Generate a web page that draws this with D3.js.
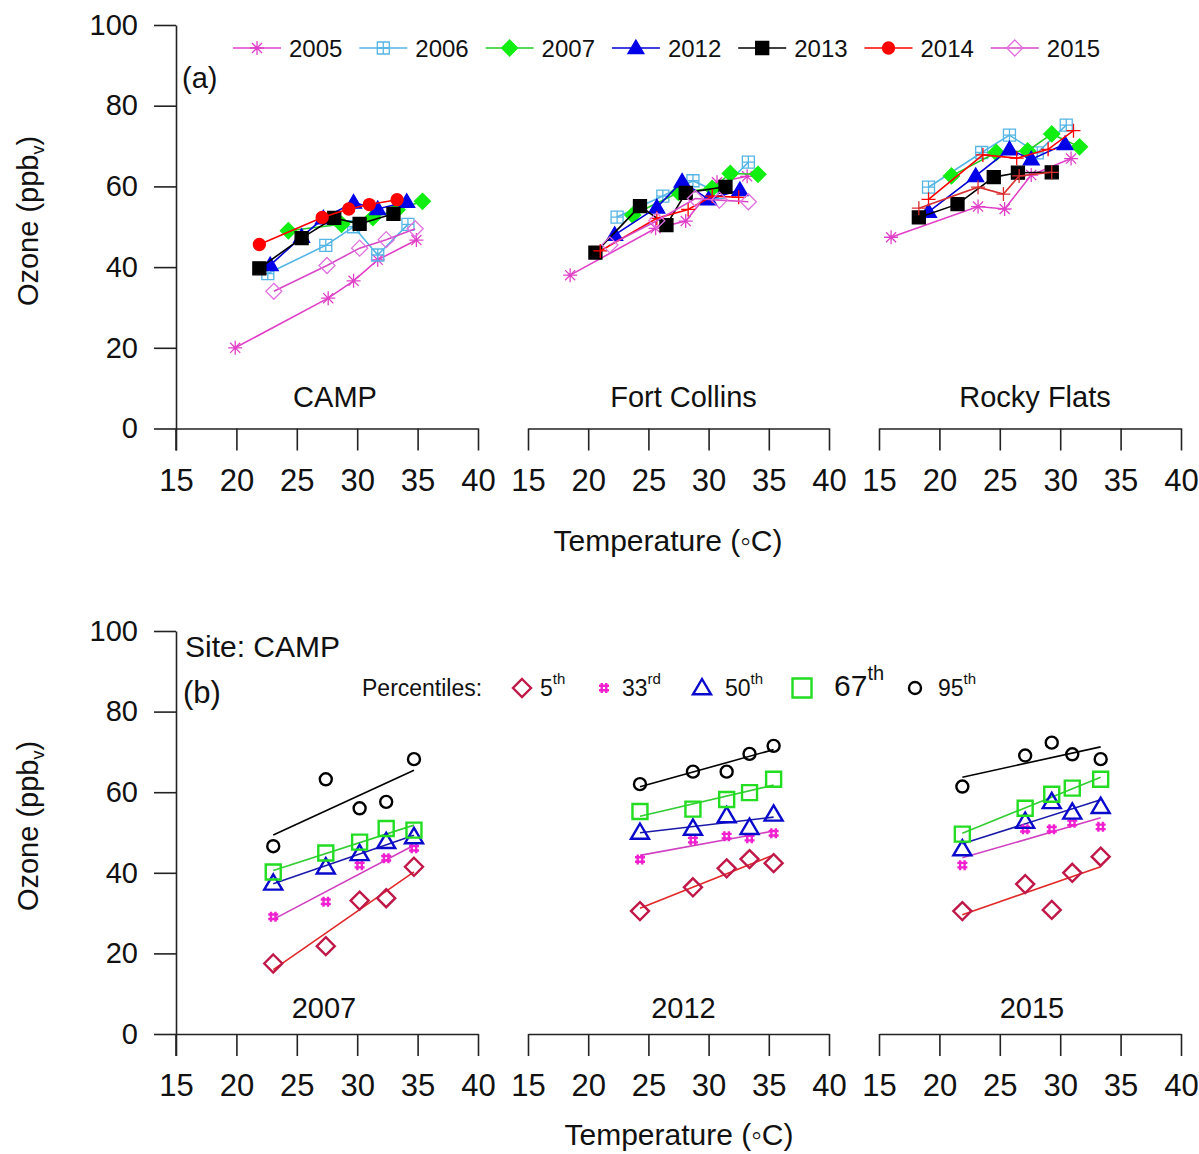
<!DOCTYPE html>
<html>
<head>
<meta charset="utf-8">
<script src="https://cdn.jsdelivr.net/npm/d3@7"></script>
<style>
  body { margin: 0; background: #fff; }
  svg { font-family: "Liberation Sans", Arial, sans-serif; }
</style>
</head>
<body>
<div id="chart"></div>
<script>
// ---------- data: panel (a), [temperature, ozone] per year ----------
const years = ['2005', '2006', '2007', '2012', '2013', '2014', '2015'];
const sites = ['CAMP', 'Fort Collins', 'Rocky Flats'];

const campSeries = {
  '2005': [[19.9, 20.0], [27.6, 32.3], [29.7, 36.6], [31.7, 41.8], [34.9, 46.7]],
  '2006': [[22.6, 38.4], [27.4, 45.4], [29.7, 50.0], [31.7, 43.0], [34.2, 50.6]],
  '2007': [[24.3, 49.0], [28.7, 50.6], [31.3, 52.3], [33.3, 54.2], [35.4, 56.3]],
  '2012': [[22.8, 40.5], [25.4, 47.5], [27.2, 52.1], [29.7, 56.0], [31.7, 54.4], [34.1, 56.2]],
  '2013': [[21.9, 39.7], [25.4, 47.2], [28.1, 52.2], [30.2, 50.7], [33.0, 53.2]],
  '2014': [[21.9, 45.6], [27.1, 52.3], [29.3, 54.4], [31.0, 55.5], [33.3, 56.7]],
  '2015': [[23.1, 34.0], [27.5, 40.4], [30.2, 44.7], [32.4, 46.8], [34.8, 49.5]]
};
const fortCollinsSeries = {
  '2005': [[18.5, 38.0], [25.6, 49.6], [28.1, 51.4], [30.7, 61.0], [33.2, 62.5]],
  '2006': [[22.4, 52.4], [26.2, 57.6], [28.7, 61.4], [30.8, 58.5], [33.3, 66.0]],
  '2007': [[23.7, 52.9], [27.5, 58.5], [30.3, 59.5], [31.8, 63.2], [34.1, 63.0]],
  '2012': [[22.2, 48.0], [25.7, 54.8], [27.8, 61.2], [30.0, 56.8], [32.6, 59.1]],
  '2013': [[20.6, 43.6], [24.3, 55.1], [26.5, 50.4], [28.1, 58.4], [31.4, 59.9]],
  '2014': [[21.0, 44.0], [25.7, 52.1], [28.3, 54.3], [30.3, 57.6], [32.5, 57.3]],
  '2015': [[21.8, 45.5], [25.7, 51.5], [28.9, 57.0], [30.9, 56.6], [33.3, 56.2]]
};
const rockyFlatsSeries = {
  '2005': [[16.0, 47.4], [23.2, 55.0], [25.4, 54.4], [27.6, 62.8], [30.9, 66.9]],
  '2006': [[19.1, 59.8], [23.5, 68.4], [25.8, 72.7], [28.1, 68.3], [30.5, 75.2]],
  '2007': [[21.0, 62.6], [24.7, 68.4], [27.3, 68.8], [29.3, 73.0], [31.6, 69.8]],
  '2012': [[19.1, 53.7], [23.0, 62.6], [25.8, 69.2], [27.6, 66.7], [30.4, 70.5]],
  '2013': [[18.3, 52.3], [21.5, 55.6], [24.5, 62.3], [26.5, 63.4], [29.3, 63.5]],
  '2014': [[19.1, 56.8], [23.6, 67.8], [26.4, 67.0], [29.0, 69.2], [31.1, 73.8]],
  '2015': [[18.3, 54.6], [23.2, 59.8], [25.3, 58.1], [26.6, 62.6], [29.3, 63.5]]
};

// ---------- data: panel (b), CAMP percentiles ----------
const pctlYears = ['2007', '2012', '2015'];
const pctlNames = ['5th', '33rd', '50th', '67th', '95th'];

const temps2007 = [23.05, 27.4, 30.2, 32.4, 34.7];
const pctl2007 = {
  '5th':  [17.5, 21.8, 33.1, 33.7, 41.5],
  '33rd': [29.1, 32.8, 41.9, 43.6, 46.1],
  '50th': [37.4, 41.4, 44.7, 47.7, 48.9],
  '67th': [40.2, 44.9, 47.6, 51.0, 50.6],
  '95th': [46.6, 63.2, 56.0, 57.6, 68.2]
};
const temps2012 = [24.3, 28.7, 31.5, 33.4, 35.4];
const pctl2012 = {
  '5th':  [30.5, 36.4, 41.1, 43.4, 42.4],
  '33rd': [43.3, 48.1, 49.1, 48.6, 49.8],
  '50th': [50.0, 51.0, 54.1, 51.2, 54.5],
  '67th': [55.2, 55.8, 58.2, 59.9, 63.2],
  '95th': [62.0, 65.1, 65.1, 69.5, 71.5]
};
const temps2015 = [21.9, 27.1, 29.3, 31.0, 33.35];
const pctl2015 = {
  '5th':  [30.5, 37.2, 30.8, 40.0, 44.0],
  '33rd': [41.9, 50.8, 50.8, 52.4, 51.4],
  '50th': [45.9, 52.7, 57.6, 55.0, 56.4],
  '67th': [49.6, 56.0, 59.5, 61.0, 63.2],
  '95th': [61.4, 69.1, 72.3, 69.4, 68.2]
};

const xTicks = [15, 20, 25, 30, 35, 40];
const yTicks = [0, 20, 40, 60, 80, 100];

// ---------- styles ----------
const yearStyle = {
  '2005': { sym: 'asterisk', line: '#e040c8', stroke: '#e040c8', fill: 'none', size: 7 },
  '2006': { sym: 'squarePlus', line: '#55b5e5', stroke: '#55b5e5', fill: 'none', size: 6 },
  '2007': { sym: 'diamond', line: '#22cc22', stroke: '#11ee11', fill: '#11ee11', size: 8 },
  '2012': { sym: 'triangle', line: '#0000d8', stroke: '#0000e8', fill: '#0000e8', size: 8 },
  '2013': { sym: 'square', line: '#000', stroke: '#000', fill: '#000', size: 6.5 },
  '2014': { sym: 'circle', line: '#ff0000', stroke: '#ff0000', fill: '#ff0000', size: 6 },
  '2015': { sym: 'diamond', line: '#d848c8', stroke: '#e070e0', fill: 'none', size: 8 }
};
// at the other two sites some years are plotted with "+" markers
const siteOverride = {
  'Fort Collins': { '2014': { sym: 'plus', size: 7 } },
  'Rocky Flats': { '2014': { sym: 'plus', size: 7 }, '2015': { sym: 'plus', size: 7, line: '#d83030', stroke: '#d83030' } }
};
const pctlStyle = {
  '5th':  { sym: 'diamond', stroke: '#c01848', line: '#e02828', size: 9 },
  '33rd': { sym: 'hash', stroke: '#f020d0', line: '#d040c0', size: 5 },
  '50th': { sym: 'triangle', stroke: '#0a0acc', line: '#1a1aa8', size: 9 },
  '67th': { sym: 'square', stroke: '#22dd22', line: '#33cc33', size: 7.5 },
  '95th': { sym: 'circle', stroke: '#000', line: '#000', size: 6 }
};

function symPath(sym, s) {
  switch (sym) {
    case 'diamond': return `M0,${-s}L${s},0L0,${s}L${-s},0Z`;
    case 'triangle': return `M0,${-s}L${s},${s * 0.7}L${-s},${s * 0.7}Z`;
    case 'square': return `M${-s},${-s}H${s}V${s}H${-s}Z`;
    case 'plus': return `M${-s},0H${s}M0,${-s}V${s}`;
    case 'squarePlus': return `M${-s},${-s}H${s}V${s}H${-s}ZM${-s},0H${s}M0,${-s}V${s}`;
    case 'asterisk': {
      const d = s * 0.72;
      return `M${-s},0H${s}M0,${-s}V${s}M${-d},${-d}L${d},${d}M${-d},${d}L${d},${-d}`;
    }
    case 'hash': {
      const a = s * 0.45;
      return `M${-a},${-s}V${s}M${a},${-s}V${s}M${-s},${-a}H${s}M${-s},${a}H${s}`;
    }
    case 'circle': return `M${s},0A${s},${s} 0 1,1 ${-s},0A${s},${s} 0 1,1 ${s},0Z`;
  }
}

function drawMarker(g, x, y, st, sw) {
  g.append('path')
    .attr('transform', `translate(${x},${y})`)
    .attr('d', symPath(st.sym, st.size))
    .attr('fill', st.fill || 'none')
    .attr('stroke', st.stroke)
    .attr('stroke-width', sw);
}

// ---------- layout ----------
const width = 1199, height = 1154;
const svg = d3.select('#chart').append('svg')
  .attr('width', width)
  .attr('height', height);

const panelRanges = [[176, 478], [528, 829], [879, 1181]];
const xScales = panelRanges.map(r => d3.scaleLinear().domain([15, 40]).range(r));
const yTop = d3.scaleLinear().domain([0, 100]).range([428.5, 25]);
const yBot = d3.scaleLinear().domain([0, 100]).range([1034, 631]);

function drawAxes(yScale, ylabelY, xlabelX, xlabelBase) {
  xScales.forEach(x => {
    const ax = svg.append('g')
      .attr('transform', `translate(0,${yScale(0)})`)
      .call(d3.axisBottom(x).tickValues(xTicks).tickSize(22).tickSizeOuter(0).tickPadding(18));
    ax.attr('font-family', null).attr('font-size', 31);
    ax.selectAll('path,line').attr('stroke', '#222').attr('stroke-width', 1.6);
    ax.selectAll('text').attr('fill', '#111');
  });
  const ay = svg.append('g')
    .attr('transform', `translate(${xScales[0].range()[0]},0)`)
    .call(d3.axisLeft(yScale).tickValues(yTicks).tickSize(22).tickSizeOuter(0).tickPadding(16));
  ay.attr('font-family', null).attr('font-size', 29);
  ay.selectAll('path,line').attr('stroke', '#222').attr('stroke-width', 1.6);
  ay.selectAll('text').attr('fill', '#111');
  // y axis continues down through the first x tick
  svg.append('line')
    .attr('x1', xScales[0].range()[0]).attr('x2', xScales[0].range()[0])
    .attr('y1', yScale(0)).attr('y2', yScale(0) + 22)
    .attr('stroke', '#222').attr('stroke-width', 1.6);

  const yl = svg.append('text')
    .attr('transform', `translate(38,${ylabelY}) rotate(-90)`)
    .attr('text-anchor', 'middle')
    .attr('font-size', 29)
    .attr('fill', '#111');
  yl.append('tspan').text('Ozone (ppb');
  yl.append('tspan').attr('font-size', 18).attr('dy', 6).text('v');
  yl.append('tspan').attr('dy', -6).text(')');

  svg.append('text')
    .attr('x', xlabelX).attr('y', xlabelBase)
    .attr('text-anchor', 'middle')
    .attr('font-size', 30)
    .attr('fill', '#111')
    .text('Temperature (\u25E6C)');
}

drawAxes(yTop, 221, 668, 551);
drawAxes(yBot, 826, 679, 1145);

const line = (x, y) => d3.line().x(d => x(d[0])).y(d => y(d[1]));

// ---------- panel (a) ----------
const siteSeries = [campSeries, fortCollinsSeries, rockyFlatsSeries];
siteSeries.forEach((series, i) => {
  const x = xScales[i];
  const g = svg.append('g');
  years.forEach(yr => {
    const st = Object.assign({}, yearStyle[yr], (siteOverride[sites[i]] || {})[yr] || {});
    g.append('path')
      .datum(series[yr])
      .attr('d', line(x, yTop))
      .attr('fill', 'none')
      .attr('stroke', st.line)
      .attr('stroke-width', 1.6);
    series[yr].forEach(d => drawMarker(g, x(d[0]), yTop(d[1]), st, 1.3));
  });
  svg.append('text')
    .attr('x', d3.mean(x.range()) + (i === 0 ? 8 : 5))
    .attr('y', 407)
    .attr('text-anchor', 'middle')
    .attr('font-size', 29)
    .attr('fill', '#111')
    .text(sites[i]);
});

svg.append('text').attr('x', 182).attr('y', 88).attr('font-size', 29).attr('fill', '#111').text('(a)');

// legend (a)
const legA = svg.append('g').attr('transform', 'translate(0,48)');
years.forEach((yr, i) => {
  const cx = 257 + i * 126.3;
  const st = yearStyle[yr];
  legA.append('line')
    .attr('x1', cx - 24).attr('x2', cx + 24)
    .attr('stroke', st.line).attr('stroke-width', 1.6);
  drawMarker(legA, cx, 0, st, 1.3);
  legA.append('text')
    .attr('x', cx + 32).attr('y', 9)
    .attr('font-size', 24).attr('fill', '#111')
    .text(yr);
});

// ---------- panel (b) ----------
const pctlTemps = [temps2007, temps2012, temps2015];
const pctlVals = [pctl2007, pctl2012, pctl2015];

function fit(xs, ys) {
  const mx = d3.mean(xs), my = d3.mean(ys);
  const b = d3.sum(xs, (v, k) => (v - mx) * (ys[k] - my)) / d3.sum(xs, v => (v - mx) * (v - mx));
  const ext = d3.extent(xs);
  return ext.map(v => [v, my + b * (v - mx)]);
}

pctlYears.forEach((yr, i) => {
  const x = xScales[i];
  const g = svg.append('g');
  pctlNames.forEach(p => {
    const st = pctlStyle[p];
    g.append('path')
      .datum(fit(pctlTemps[i], pctlVals[i][p]))
      .attr('d', line(x, yBot))
      .attr('stroke', st.line)
      .attr('stroke-width', 1.6);
  });
  pctlNames.forEach(p => {
    const st = pctlStyle[p];
    pctlTemps[i].forEach((t, k) => drawMarker(g, x(t), yBot(pctlVals[i][p][k]), st, 2.4));
  });
  svg.append('text')
    .attr('x', d3.mean(x.range()) + (i === 0 ? -3 : i === 2 ? 2 : 5))
    .attr('y', 1018)
    .attr('text-anchor', 'middle')
    .attr('font-size', 29)
    .attr('fill', '#111')
    .text(yr);
});

svg.append('text').attr('x', 185).attr('y', 657).attr('font-size', 30).attr('fill', '#111').text('Site: CAMP');
svg.append('text').attr('x', 183).attr('y', 703).attr('font-size', 31).attr('fill', '#111').text('(b)');

// legend (b)
const legB = svg.append('g').attr('transform', 'translate(0,688)');
legB.append('text').attr('x', 362).attr('y', 8).attr('font-size', 23).attr('fill', '#111').text('Percentiles:');
const legBItems = [
  { p: '5th', mx: 522, num: '5', sup: 'th', nx: 540, fs: 23 },
  { p: '33rd', mx: 604, num: '33', sup: 'rd', nx: 622, fs: 23 },
  { p: '50th', mx: 702, num: '50', sup: 'th', nx: 725, fs: 23 },
  { p: '67th', mx: 802, num: '67', sup: 'th', nx: 834, fs: 30 },
  { p: '95th', mx: 915, num: '95', sup: 'th', nx: 938, fs: 23 }
];
legBItems.forEach(it => {
  const st = Object.assign({}, pctlStyle[it.p]);
  if (it.p === '67th') st.size = 9.5;
  if (it.p === '95th') st.size = 6;
  drawMarker(legB, it.mx, 0, st, 2.4);
  const t = legB.append('text').attr('x', it.nx).attr('y', 8).attr('font-size', it.fs).attr('fill', '#111');
  t.append('tspan').text(it.num);
  t.append('tspan')
    .attr('font-size', it.fs === 30 ? 20 : 15)
    .attr('dy', it.fs === 30 ? -16 : -12)
    .text(it.sup);
});
</script>
</body>
</html>
